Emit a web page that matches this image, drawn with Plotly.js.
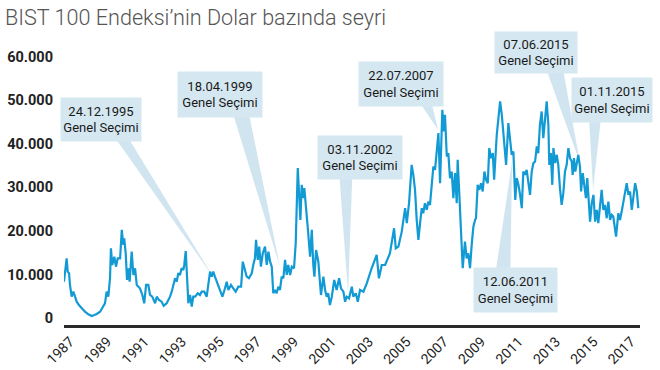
<!DOCTYPE html>
<html>
<head>
<meta charset="utf-8">
<script src="https://cdn.plot.ly/plotly-3.0.1.min.js"></script>
<style>html,body{margin:0;padding:0;background:#fff}#chart{width:660px;height:370px}</style>
</head>
<body>
<div id="chart"></div>
<script>
// ---- data ----
const years = [1987.00,1987.14,1987.20,1987.27,1987.32,1987.41,1987.50,1987.59,1987.68,1987.80,1987.95,1988.12,1988.30,1988.48,1988.62,1988.75,1988.93,1989.05,1989.19,1989.28,1989.37,1989.46,1989.51,1989.58,1989.69,1989.78,1989.87,1990.00,1990.09,1990.17,1990.22,1990.30,1990.37,1990.44,1990.51,1990.62,1990.71,1990.80,1990.89,1991.06,1991.19,1991.29,1991.39,1991.51,1991.60,1991.72,1991.87,1991.96,1992.08,1992.22,1992.33,1992.49,1992.67,1992.76,1992.84,1992.94,1993.03,1993.11,1993.20,1993.29,1993.38,1993.43,1993.51,1993.59,1993.65,1993.74,1993.83,1993.91,1994.01,1994.15,1994.27,1994.36,1994.50,1994.63,1994.81,1994.90,1994.98,1995.07,1995.25,1995.47,1995.61,1995.70,1995.79,1995.93,1996.05,1996.18,1996.32,1996.47,1996.56,1996.68,1996.77,1996.89,1997.04,1997.12,1997.21,1997.27,1997.36,1997.44,1997.53,1997.63,1997.75,1997.84,1997.93,1998.02,1998.11,1998.19,1998.28,1998.37,1998.46,1998.55,1998.64,1998.73,1998.82,1998.91,1998.99,1999.09,1999.18,1999.30,1999.39,1999.50,1999.57,1999.64,1999.71,1999.78,1999.85,1999.93,2000.03,2000.16,2000.25,2000.33,2000.39,2000.48,2000.60,2000.74,2000.87,2000.96,2001.05,2001.13,2001.22,2001.32,2001.45,2001.58,2001.71,2001.81,2001.94,2002.03,2002.12,2002.24,2002.39,2002.47,2002.60,2002.71,2002.83,2003.01,2003.19,2003.45,2003.72,2003.84,2003.99,2004.17,2004.31,2004.43,2004.65,2004.74,2004.88,2005.06,2005.24,2005.33,2005.45,2005.59,2005.68,2005.77,2005.86,2005.95,2006.04,2006.13,2006.21,2006.30,2006.40,2006.48,2006.57,2006.66,2006.75,2006.84,2006.93,2007.02,2007.11,2007.23,2007.31,2007.37,2007.47,2007.55,2007.64,2007.73,2007.82,2007.91,2008.00,2008.05,2008.14,2008.23,2008.32,2008.44,2008.53,2008.62,2008.71,2008.80,2008.89,2008.98,2009.03,2009.12,2009.21,2009.30,2009.39,2009.48,2009.57,2009.66,2009.74,2009.83,2009.93,2010.00,2010.08,2010.14,2010.23,2010.32,2010.41,2010.49,2010.58,2010.64,2010.76,2010.85,2010.94,2011.03,2011.08,2011.13,2011.21,2011.30,2011.39,2011.48,2011.56,2011.65,2011.74,2011.83,2011.92,2012.01,2012.10,2012.19,2012.28,2012.36,2012.45,2012.54,2012.63,2012.72,2012.81,2012.90,2012.95,2013.03,2013.11,2013.17,2013.26,2013.35,2013.43,2013.52,2013.61,2013.70,2013.79,2013.88,2013.97,2014.06,2014.15,2014.20,2014.27,2014.34,2014.42,2014.50,2014.59,2014.65,2014.74,2014.82,2014.91,2014.98,2015.06,2015.13,2015.22,2015.31,2015.40,2015.49,2015.57,2015.66,2015.75,2015.84,2015.93,2016.02,2016.11,2016.20,2016.29,2016.37,2016.46,2016.52,2016.64,2016.73,2016.82,2016.91,2017.00,2017.09,2017.18,2017.27,2017.36,2017.45,2017.54,2017.63,2017.71];
const indexUSD = [8350,13720,10650,10270,7590,4900,6050,4900,3750,2990,2230,1450,850,460,690,920,1450,2230,3380,6050,4900,9130,16020,12180,14090,11790,13720,13720,20230,16780,18320,14870,8740,11430,8350,15250,9890,11430,7590,6830,5290,3380,7590,7590,5290,4900,3380,4900,4140,3750,2830,3380,4900,6050,7200,9130,8350,10270,9890,11430,11040,12180,15400,9890,3380,5290,2600,4900,4900,5680,5290,6050,6050,4900,10650,9490,10650,9490,7200,4900,6830,8350,6440,7590,6830,6050,7200,7200,12940,11040,9490,9130,10270,12180,13720,17930,13330,16390,11790,14870,16390,12180,15250,12940,11790,5680,6440,5680,7200,6440,9490,9130,13330,9890,12180,9890,11790,11430,17170,34420,28670,22530,30580,27520,29820,24830,20990,14090,20230,12180,9490,15630,12940,5290,9490,6440,4900,5680,2990,4900,8740,6440,9130,6830,6050,3750,4900,4520,7200,4900,5680,3750,6440,6050,7970,11430,14480,9130,12180,12180,13720,14870,20620,16020,16390,19840,25220,21770,26370,35170,32870,29430,22530,17930,21770,25220,24070,26370,24830,26740,25980,30190,34780,34030,37860,42460,30970,47820,42830,46670,37080,37860,32120,33640,27520,33270,26370,36320,28280,19080,11430,17540,13720,14870,11430,16780,20990,22530,22910,30580,29430,30970,29050,33640,31740,30970,39010,36710,37860,31740,40000,42070,45910,49730,46670,42830,39010,35170,44760,41310,37470,38240,32120,27130,32120,30580,28280,25220,33640,32870,34030,31360,28280,33640,35570,35940,39390,37860,44370,47430,41310,45520,49730,44370,35170,37860,30580,39010,35570,37470,35170,29820,25980,28670,33640,35170,39010,36710,35940,32870,36710,33640,35940,37470,34780,29050,33270,29820,27520,32120,26740,22140,26370,28280,22140,24830,21770,25980,29430,24830,25980,22910,26740,22530,23680,23300,20620,18690,24070,22530,24440,26740,28280,30970,28280,29050,24830,28280,30970,29050,25220];

const yTickVals = [0,10000,20000,30000,40000,50000,60000];
const yTickText = ["0","10.000","20.000","30.000","40.000","50.000","60.000"];
const xTickVals = [1987,1989,1991,1993,1995,1997,1999,2001,2003,2005,2007,2009,2011,2013,2015,2017];
const xTickText = ["1987","1989","1991","1993","1995","1997","1999","2001","2003","2005","2007","2009","2011","2013","2015","2017"];

// election callouts: label, pointer tip (year, value)
const calloutDates = ["24.12.1995","18.04.1999","03.11.2002","22.07.2007","12.06.2011","07.06.2015","01.11.2015"];
const calloutTipYear = [1994.97,1998.55,2002.19,2007.00,2010.96,2014.59,2015.29];
const calloutTipValue = [9500,11720,5750,43220,35860,35630,29430];

// ---- layout of the callout boxes (position/style, not data) ----
const boxCenterX = [1988.98,1995.34,2002.83,2005.02,2011.14,2012.24,2016.31];
const boxCenterY = [45630,51380,36900,53800,6440,61040,50120];
const boxW = [80,84,84,84,83,82,80];
const boxH = [43,45,43,44,44,41,44];
const baseL = [1989.03,1995.72,2001.65,2005.34,2009.94,2012.46,2015.02];
const baseR = [1989.83,1996.68,2002.45,2006.41,2010.85,2013.52,2015.82];

const FONT = 'Roboto, "Liberation Sans Narrow", sans-serif';
const BOX = '#d5e7f1';
const PTR = 'rgba(200,224,237,0.85)';

const shapes = calloutDates.map((d,i)=>({
  type:'path', xref:'x', yref:'y', layer:'below',
  path:`M ${baseL[i]} ${boxCenterY[i]} L ${baseR[i]} ${boxCenterY[i]} L ${calloutTipYear[i]} ${calloutTipValue[i]} Z`,
  fillcolor: PTR, line:{width:0}
}));

const annotations = calloutDates.map((d,i)=>({
  x: boxCenterX[i], y: boxCenterY[i], xref:'x', yref:'y',
  text: d + '<br>Genel Seçimi', showarrow:false,
  width: boxW[i], height: boxH[i], bgcolor: BOX, borderpad:0,
  align:'center', valign:'middle',
  font:{family:FONT, size:13, color:'#1a1a1a'}
}));

const trace = {
  x: years, y: indexUSD, type:'scatter', mode:'lines',
  line:{color:'#129ad5', width:2.2}, hoverinfo:'skip'
};

const layout = {
  width:660, height:370,
  margin:{l:64, r:20, t:48, b:45},
  paper_bgcolor:'#fff', plot_bgcolor:'#fff',
  separators: ',.',
  showlegend:false,
  title:{text:'BIST 100 Endeksi’nin Dolar bazında seyri', x:5/660, xanchor:'left', xref:'container',
         y:1-17/370, yanchor:'middle', yref:'container',
         font:{family:'Roboto, "Open Sans", sans-serif', size:21.6, color:'#555', weight:300}},
  xaxis:{range:[1987,2017.8], showgrid:false, zeroline:false, showline:true, linecolor:'#2a2a2a', linewidth:3,
         ticks:'', tickvals:xTickVals, ticktext:xTickText, tickangle:-45, ticklabelshift:6,
         tickfont:{family:FONT, size:14, color:'#1e1e1e'}, fixedrange:true},
  yaxis:{range:[-1600,62000], showgrid:false, zeroline:false, showline:false, ticks:'',
         tickvals:yTickVals, ticktext:yTickText, ticklabelstandoff:10,
         tickfont:{family:FONT, size:14.5, color:'#222', weight:'bold'}, fixedrange:true},
  shapes: shapes,
  annotations: annotations
};

Plotly.newPlot('chart',[trace],layout,{displayModeBar:false, staticPlot:true});
</script>
</body>
</html>
